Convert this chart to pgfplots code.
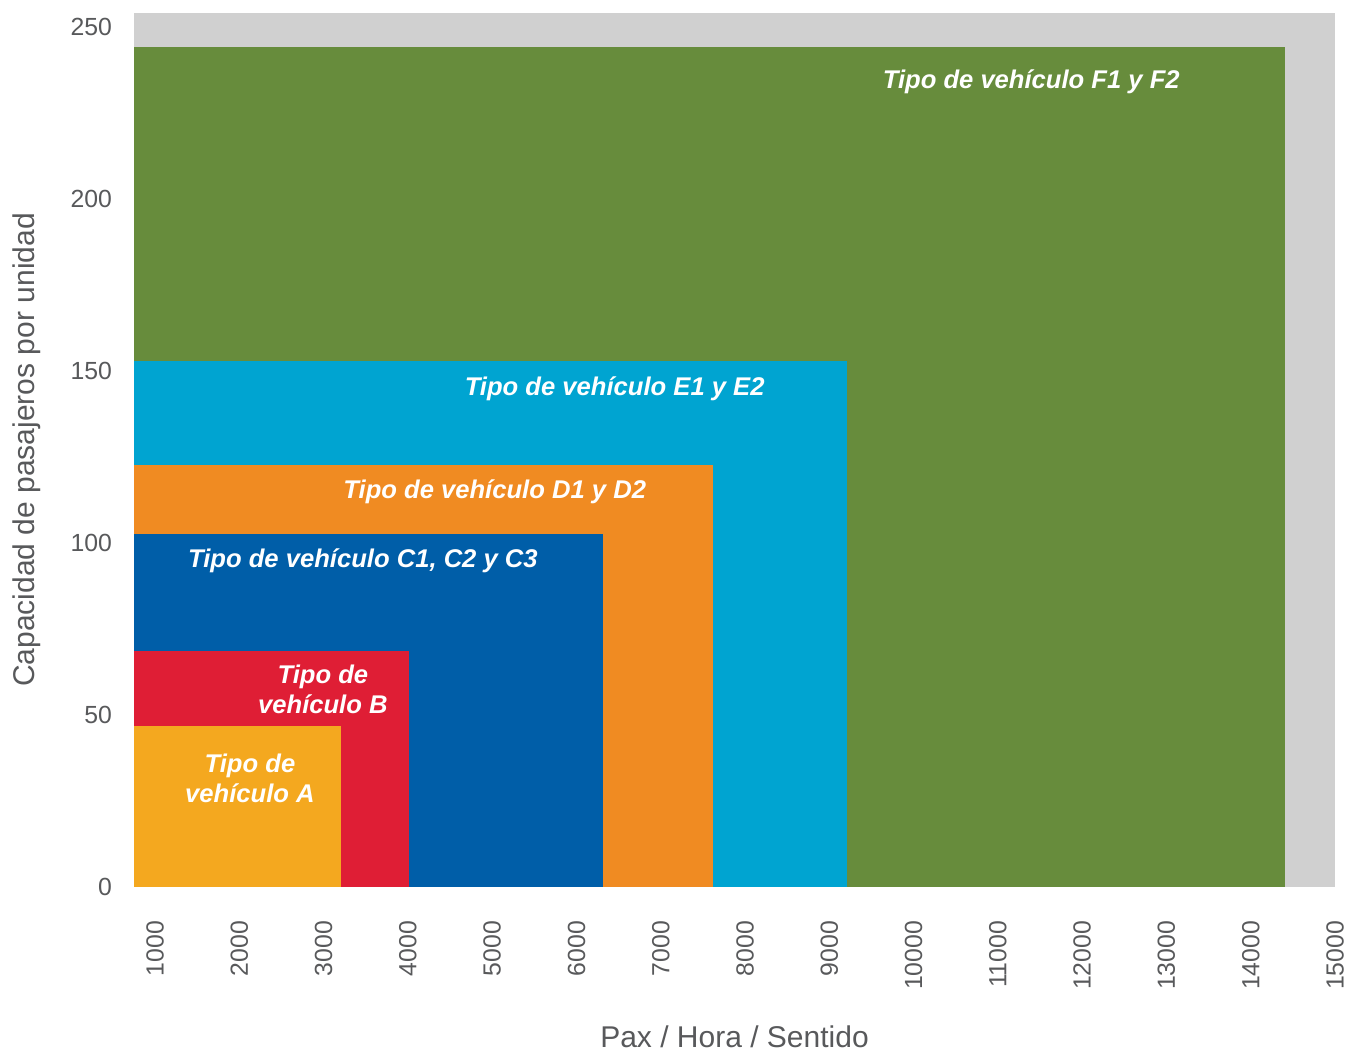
\documentclass[border=0pt]{standalone}
\usepackage{fontspec}
\setmainfont{Liberation Sans}
\usepackage{pgfplots}
\pgfplotsset{compat=1.18}
\definecolor{cBg}{HTML}{D0D0D0}
\definecolor{cA}{HTML}{F4A81F}
\definecolor{cB}{HTML}{DF1E35}
\definecolor{cC}{HTML}{005EA8}
\definecolor{cD}{HTML}{F08B22}
\definecolor{cE}{HTML}{00A4D1}
\definecolor{cF}{HTML}{678C3C}
\definecolor{cText}{HTML}{58595B}
\newcommand{\ticksize}{\fontsize{12.4}{14}\selectfont}
\newcommand{\labsize}{\fontsize{15}{18}\selectfont}
\newcommand{\boxsize}{\fontsize{12.8}{15}\selectfont\bfseries\itshape}
\tikzset{lbl/.style={font=\boxsize, text=white, align=center}}
\begin{document}
\begin{tikzpicture}
\path[use as bounding box] (-67pt,-82pt) rectangle (607.5pt,443.5pt);
\begin{axis}[
  name=ax, at={(0,0)}, anchor=south west,
  scale only axis, width=600.5pt, height=437pt,
  xmin=750, xmax=15000, ymin=0, ymax=254,
  axis line style={draw=none},
  major tick length=0pt,
  scaled x ticks=false,
  xtick={1000,2000,...,15000},
  ytick={0,50,...,250},
  axis background/.style={fill=cBg},
  tick label style={font=\ticksize, text=cText},
  xticklabel style={yshift=-13.4pt, rotate=90, anchor=east},
  yticklabel style={xshift=-7.5pt},
  xlabel={Pax / Hora / Sentido},
  ylabel={Capacidad de pasajeros por unidad},
  xlabel style={at={(axis description cs:0.5,-0.1716)}, anchor=center, font=\labsize, text=cText},
  ylabel style={at={(axis description cs:-0.0891,0.5)}, anchor=center, font=\labsize, text=cText},
  /pgf/number format/.cd, fixed, precision=0, 1000 sep={}, assume math mode=true,
]
% one block per vehicle type, largest first
\addplot[fill=cF, draw=none] coordinates {(750,244) (14410,244)} \closedcycle;
\addplot[fill=cE, draw=none] coordinates {(750,153) (9215,153)} \closedcycle;
\addplot[fill=cD, draw=none] coordinates {(750,122.7) (7615,122.7)} \closedcycle;
\addplot[fill=cC, draw=none] coordinates {(750,102.6) (6311,102.6)} \closedcycle;
\addplot[fill=cB, draw=none] coordinates {(750,68.6) (4014,68.6)} \closedcycle;
\addplot[fill=cA, draw=none] coordinates {(750,46.8) (3205,46.8)} \closedcycle;

\node[lbl] at (axis cs:11396,234) {Tipo de vehículo F1 y F2};
\node[lbl] at (axis cs:6453,144.8) {Tipo de vehículo E1 y E2};
\node[lbl] at (axis cs:5030,114.8) {Tipo de vehículo D1 y D2};
\node[lbl] at (axis cs:3466,94.8) {Tipo de vehículo C1, C2 y C3};
\node[lbl] at (axis cs:2991,57.3) {Tipo de\\vehículo B};
\node[lbl] at (axis cs:2126,31.7) {Tipo de\\vehículo A};
\end{axis}
\end{tikzpicture}
\end{document}
